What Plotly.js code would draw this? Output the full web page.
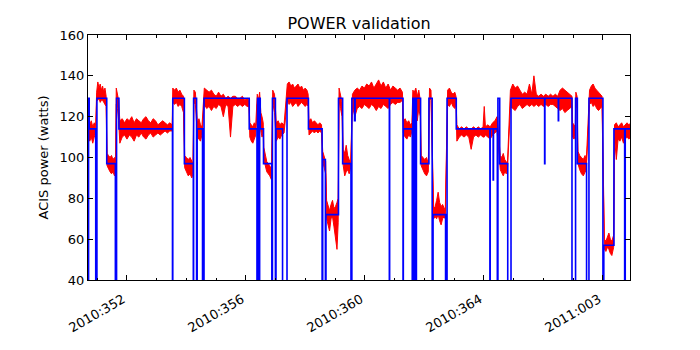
<!DOCTYPE html>
<html>
<head>
<meta charset="utf-8">
<script src="https://cdn.plot.ly/plotly-3.0.1.min.js"></script>
<style>
  body { margin: 0; background: #fff; }
  #power { width: 700px; height: 350px; }
</style>
</head>
<body>
<div id="power"></div>
<script>
// time is day-of-year, continuing past 365 into 2011 (2011:001 = 366)
var tick_days = [352, 356, 360, 364, 368];
var tick_labels = ["2010:352", "2010:356", "2010:360", "2010:364", "2011:003"];

// measured power (red): upper and lower edge of the noisy band
var red_t = [
	350.70, 350.75, 350.80, 350.85, 350.90, 350.95,
	350.98, 351.02, 351.06, 351.10, 351.14, 351.18, 351.22, 351.26, 351.30,
	351.33, 351.38, 351.43, 351.48, 351.53, 351.58, 351.62,
	351.64, 351.68, 351.72,
	351.76, 351.84, 351.92, 352.00, 352.08, 352.16, 352.24, 352.32, 352.40, 352.48, 352.56, 352.64, 352.72, 352.80, 352.88, 352.96, 353.04, 353.12, 353.20, 353.28, 353.36, 353.44, 353.52,
	353.54, 353.60, 353.66, 353.72, 353.78, 353.84, 353.90,
	353.94, 354.00, 354.06, 354.12, 354.18, 354.22,
	354.25, 354.30,
	354.37, 354.42, 354.47, 354.52,
	354.60, 354.68, 354.76, 354.84, 354.92, 355.00, 355.08, 355.16, 355.24, 355.32, 355.40, 355.48, 355.56, 355.64, 355.72, 355.80, 355.88, 355.96, 356.04, 356.10,
	356.13, 356.18, 356.23, 356.28, 356.33,
	356.38, 356.42, 356.46, 356.50, 356.54, 356.58,
	356.60, 356.65, 356.70, 356.75, 356.80, 356.86,
	356.90, 356.96,
	357.02, 357.08, 357.14, 357.20, 357.28,
	357.39, 357.45, 357.51, 357.57, 357.63, 357.69, 357.75, 357.81, 357.87, 357.93, 357.99, 358.05, 358.09,
	358.12, 358.18, 358.24, 358.30, 358.36, 358.42, 358.48, 358.54,
	358.58, 358.63, 358.68,
	358.71, 358.76, 358.81, 358.86, 358.91, 358.96, 359.01, 359.06, 359.10,
	359.13, 359.18, 359.23,
	359.27, 359.32, 359.37, 359.42, 359.47, 359.52,
	359.58, 359.66, 359.74, 359.82, 359.90, 359.98, 360.06, 360.14, 360.22, 360.30, 360.38, 360.46, 360.54, 360.62, 360.70, 360.78, 360.86, 360.94, 361.02, 361.10, 361.18, 361.26,
	361.29, 361.35, 361.41, 361.47, 361.53, 361.58,
	361.61, 361.66, 361.71, 361.76, 361.81, 361.86,
	361.89, 361.95, 362.01, 362.07, 362.13,
	362.17, 362.22,
	362.31, 362.36, 362.41, 362.46, 362.51, 362.56, 362.61, 362.66, 362.70,
	362.78, 362.84, 362.90, 362.96, 363.02, 363.06,
	363.09, 363.17, 363.25, 363.33, 363.41, 363.49, 363.57, 363.65, 363.73, 363.81, 363.89, 363.97, 364.01, 364.05, 364.13, 364.21, 364.29, 364.37, 364.44,
	364.55, 364.60, 364.65, 364.70, 364.75, 364.79,
	364.89, 364.97, 365.05, 365.13, 365.21, 365.29, 365.37, 365.45, 365.53, 365.61, 365.68, 365.76, 365.84, 365.92, 366.00, 366.08, 366.16, 366.24, 366.32, 366.40, 366.48, 366.56, 366.64, 366.72, 366.80, 366.88, 366.96,
	366.98, 367.03, 367.07,
	367.09, 367.13,
	367.16, 367.22, 367.28, 367.34, 367.40, 367.44,
	367.55, 367.61, 367.67, 367.73, 367.79, 367.85, 367.91, 367.97,
	368.05, 368.10, 368.15, 368.20, 368.25, 368.30, 368.36,
	368.39, 368.45, 368.51, 368.57, 368.63, 368.69, 368.75, 368.81, 368.87, 368.94
];
var red_hi = [
	117, 116, 118, 115, 117, 116,
	132, 137, 134, 136, 133, 135, 132, 134, 130,
	102, 101, 100, 101, 99, 100, 98,
	134, 131, 128,
	118, 119, 117, 119, 118, 120, 117, 119, 118, 117, 119, 120, 118, 117, 119, 118, 116, 117, 118, 117, 116, 117, 116,
	134, 133, 134, 132, 133, 131, 130,
	101, 100, 99, 100, 98, 97,
	133, 132,
	117, 119, 116, 115,
	134, 133, 132, 133, 131, 130, 132, 130, 131, 129, 130, 129, 130, 130, 129, 129, 130, 128, 129, 128,
	117, 116, 115, 117, 116,
	131, 128, 132, 122, 120, 117,
	105, 101, 98, 97, 96, 94,
	133, 131,
	117, 118, 116, 117, 116,
	136, 137, 135, 136, 134, 135, 136, 134, 135, 133, 134, 133, 131,
	118, 119, 117, 118, 117, 116, 117, 116,
	103, 101, 98,
	79, 76, 74, 77, 79, 75, 76, 78, 80,
	134, 131, 127,
	104, 102, 106, 101, 99, 97,
	131, 133, 134, 133, 135, 134, 136, 135, 137, 134, 136, 138, 135, 137, 134, 136, 133, 135, 134, 133, 134, 132,
	118, 119, 117, 118, 116, 117,
	133, 132, 134, 130, 133, 128,
	101, 100, 99, 100, 97,
	134, 133,
	75, 76, 79, 83, 78, 76, 77, 75, 74,
	133, 134, 132, 131, 132, 130,
	116, 114, 115, 114, 115, 114, 114, 115, 114, 115, 114, 115, 125, 115, 116, 115, 117, 118, 120,
	101, 100, 102, 99, 98, 97,
	133, 136, 134, 135, 133, 131, 132, 131, 136, 131, 140, 131, 130, 131, 130, 131, 130, 131, 130, 131, 130, 133, 134, 133, 132, 131, 130,
	117, 116, 115,
	132, 130,
	103, 101, 100, 99, 101, 98,
	133, 135, 136, 134, 133, 132, 131, 130,
	60, 59, 61, 63, 60, 59, 62,
	116, 117, 115, 116, 117, 115, 116, 117, 116, 117
];
var red_lo = [
	109, 108, 110, 107, 110, 112,
	128, 128, 129, 127, 128, 128, 127, 126, 125,
	96, 94, 93, 92, 93, 91, 93,
	126, 124, 118,
	107, 110, 111, 109, 111, 110, 108, 111, 110, 112, 110, 109, 111, 112, 110, 111, 112, 111, 112, 113, 112, 113, 113,
	127, 126, 127, 125, 126, 125, 122,
	95, 93, 91, 92, 90, 92,
	127, 126,
	110, 109, 108, 111,
	126, 124, 125, 123, 125, 124, 126, 125, 120, 126, 125, 110, 125, 126, 125, 126, 125, 126, 125, 125,
	110, 108, 107, 109, 111,
	126, 114, 124, 113, 110, 112,
	99, 95, 93, 92, 91, 89,
	127, 122,
	108, 110, 109, 111, 112,
	128, 126, 127, 125, 126, 127, 125, 126, 127, 126, 125, 126, 125,
	111, 112, 113, 112, 113, 112, 113, 112,
	98, 95, 92,
	70, 67, 64, 70, 71, 66, 60, 55, 68,
	128, 124, 120,
	96, 91, 93, 94, 92, 95,
	125, 120, 124, 125, 124, 126, 125, 124, 126, 125, 123, 125, 124, 126, 125, 124, 126, 127, 126, 127, 127, 128,
	112, 110, 109, 111, 110, 113,
	126, 122, 124, 118, 124, 120,
	96, 94, 92, 91, 93,
	129, 128,
	70, 71, 70, 72, 69, 67, 70, 71, 70,
	126, 125, 127, 125, 124, 126,
	108, 110, 111, 110, 111, 110, 104, 110, 111, 110, 111, 110, 110, 111, 110, 109, 111, 112, 113,
	94, 92, 91, 93, 92, 94,
	125, 124, 123, 125, 126, 124, 125, 126, 125, 126, 125, 126, 125, 126, 125, 126, 125, 126, 126, 125, 124, 123, 124, 122, 123, 124, 125,
	110, 109, 111,
	126, 124,
	97, 94, 92, 91, 93, 94,
	126, 127, 125, 126, 124, 123, 124, 125,
	55, 54, 56, 55, 53, 52, 56,
	110, 99, 109, 108, 110, 107, 109, 110, 109, 110
];

// model power (blue): value holds until the next breakpoint
var blue_t = [
	350.69, 350.71, 350.73, 350.95, 350.99, 351.32, 351.61, 351.65, 351.73,
	353.53, 353.54, 353.93, 354.23, 354.24, 354.34, 354.36, 354.54, 354.59,
	356.11, 356.37, 356.39, 356.42, 356.44, 356.46, 356.48, 356.59, 356.87, 356.89, 356.99, 357.01, 357.23, 357.38,
	358.10, 358.56, 358.58, 358.67, 358.69, 359.11, 359.25, 359.53, 359.56, 359.65, 359.67,
	360.82, 360.83, 361.28, 361.29, 361.59, 361.61, 361.66, 361.67, 361.72, 361.73, 361.87, 362.15, 362.26, 362.29, 362.71, 362.76,
	363.07, 364.20, 364.21, 364.31, 364.32, 364.45, 364.47, 364.53, 364.80, 364.91,
	366.04, 366.05, 366.50, 366.51, 366.96, 367.08, 367.14, 367.45, 367.53,
	368.00, 368.03, 368.37, 368.73, 368.75, 368.95
];
var blue_v = [
	0, 129, 114, 0, 129, 97, 0, 129, 114,
	0, 129, 97, 0, 129, 0, 114, 0, 129,
	114, 0, 129, 114, 0, 129, 114, 97, 0, 129, 0, 114, 0, 129,
	114, 0, 99, 0, 72, 129, 97, 0, 129, 118, 129,
	0, 129, 0, 114, 0, 129, 0, 129, 0, 129, 97, 129, 0, 72, 0, 129,
	114, 0, 114, 89, 114, 0, 129, 97, 0, 129,
	97, 129, 118, 129, 0, 129, 97, 0, 129,
	0, 57, 114, 0, 114, 114
];

var trace_lo = {
	x: red_t,
	y: red_lo,
	mode: "lines",
	line: {color: "#ff0000", width: 1},
	hoverinfo: "skip"
};

var trace_hi = {
	x: red_t,
	y: red_hi,
	mode: "lines",
	fill: "tonexty",
	fillcolor: "#ff0000",
	line: {color: "#ff0000", width: 1},
	hoverinfo: "skip"
};

var trace_model = {
	x: blue_t,
	y: blue_v,
	mode: "lines",
	line: {color: "#0000ff", width: 1.6, shape: "hv"}
};

var layout = {
	width: 700,
	height: 350,
	margin: {l: 88, r: 70, t: 35, b: 70},
	paper_bgcolor: "#ffffff",
	plot_bgcolor: "#ffffff",
	showlegend: false,
	font: {family: "DejaVu Sans", size: 13, color: "#000000"},
	title: {
		text: "POWER validation",
		font: {family: "DejaVu Sans", size: 16, color: "#000000"},
		xref: "paper",
		x: 0.5,
		yref: "container",
		y: 0.932,
		yanchor: "middle"
	},
	xaxis: {
		range: [350.69, 368.91],
		tickmode: "array",
		tickvals: tick_days,
		ticktext: tick_labels,
		tickangle: -30,
		ticklabelstandoff: 6,
		ticklabelshift: -4,
		ticks: "inside",
		ticklen: 5,
		tickwidth: 1,
		tickcolor: "#000000",
		minor: {dtick: 1, tick0: 352, ticks: "inside", ticklen: 2.5, tickcolor: "#000000"},
		showgrid: false,
		zeroline: false,
		showline: true,
		linecolor: "#000000",
		linewidth: 1,
		mirror: "allticks"
	},
	yaxis: {
		range: [40, 160],
		dtick: 20,
		ticks: "inside",
		ticklen: 5,
		tickwidth: 1,
		tickcolor: "#000000",
		showgrid: false,
		zeroline: false,
		showline: true,
		linecolor: "#000000",
		linewidth: 1,
		mirror: "allticks",
		title: {text: "ACIS power (watts)", font: {family: "DejaVu Sans", size: 13}, standoff: 8}
	}
};

Plotly.newPlot("power", [trace_lo, trace_hi, trace_model], layout, {displayModeBar: false, staticPlot: true});
</script>
</body>
</html>
